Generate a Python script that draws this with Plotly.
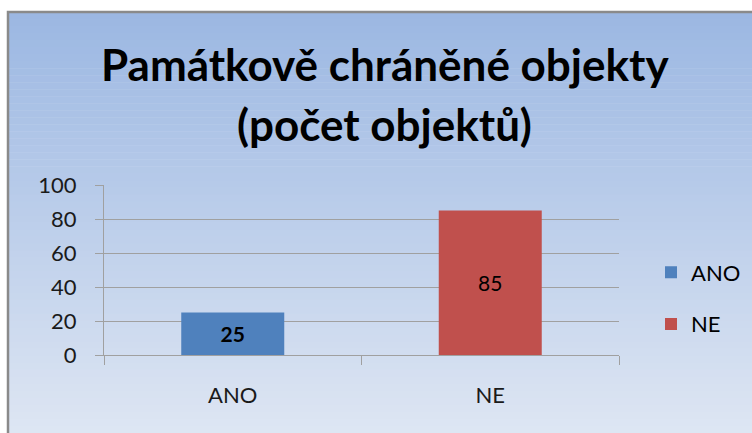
import plotly.graph_objects as go

categories = ["ANO", "NE"]
values = [25, 85]
colors = ["#4F81BD", "#C0504D"]
label_weights = ["bold", "normal"]
title_lines = ["Památkově chráněné objekty", "(počet objektů)"]
y_ticks = [0, 20, 40, 60, 80, 100]

W, H = 752, 433
L, R, T, B = 104, 619, 185, 355

fig = go.Figure()
for i, (c, v) in enumerate(zip(categories, values)):
    fig.add_trace(go.Bar(
        x=[c], y=[v], name=c, marker=dict(color=colors[i], line=dict(width=0)),
        text=[str(v)], textposition="inside", insidetextanchor="middle",
        textfont=dict(family="Lato", size=21, color="black", weight=label_weights[i]),
        legendgroup=c,
    ))

def px2x(px):
    return (px - L) / (R - L)

def px2y(py):
    return (B - py) / (B - T)

def lerp(a, b, t):
    return int(round(a + (b - a) * t))

top_c = (0x9B, 0xB7, 0xE2)
bot_c = (0xDE, 0xE6, 0xF3)
shapes = []
y_start, y_end = 12, H
n = 60
for k in range(n):
    y0 = y_start + (y_end - y_start) * k / n
    y1 = y_start + (y_end - y_start) * (k + 1) / n
    t = (k + 0.5) / n
    col = "rgb(%d,%d,%d)" % tuple(lerp(top_c[j], bot_c[j], t) for j in range(3))
    shapes.append(dict(type="rect", xref="paper", yref="paper", layer="below",
                       x0=px2x(8), x1=px2x(W + 5), y0=px2y(y1 + 0.5), y1=px2y(y0),
                       fillcolor=col, line=dict(width=0)))
shapes.append(dict(type="rect", xref="paper", yref="paper", layer="below",
                   x0=px2x(8), x1=px2x(W + 10), y0=px2y(H + 10), y1=px2y(12),
                   fillcolor="rgba(0,0,0,0)", line=dict(color="#8A8A8A", width=2.5)))

title_y_px = [64, 124]
annotations = [
    dict(text=txt, xref="paper", yref="paper", x=px2x(384.5), y=px2y(yp),
         xanchor="center", yanchor="middle", showarrow=False,
         font=dict(family="Lato", size=44, color="black", weight="bold"))
    for txt, yp in zip(title_lines, title_y_px)
]

fig.update_layout(
    width=W, height=H, autosize=False,
    margin=dict(l=L, r=W - R, t=T, b=H - B, pad=0, autoexpand=False),
    paper_bgcolor="white", plot_bgcolor="white",
    barmode="overlay", bargap=0.6,
    shapes=shapes,
    annotations=annotations,
    showlegend=True,
    legend=dict(x=(651 - L) / (R - L), y=px2y(298.5), xanchor="left", yanchor="middle",
                bgcolor="rgba(0,0,0,0)", font=dict(family="Lato", size=22, color="black"),
                traceorder="grouped", tracegroupgap=20, itemwidth=30),
    font=dict(family="Lato", color="black"),
)
fig.update_yaxes(range=[0, 100], tickvals=y_ticks, showgrid=True, gridcolor="#A0A0A0", gridwidth=1,
                 ticks="outside", ticklen=8, tickcolor="#A0A0A0", showline=True, linecolor="#A0A0A0",
                 linewidth=1, tickfont=dict(family="Lato", size=22, color="#1a1a1a"),
                 ticklabelstandoff=14, zeroline=False, fixedrange=True)
fig.update_xaxes(type="category", categoryarray=categories, tickson="boundaries", ticks="outside", ticklen=9,
                 tickcolor="#A0A0A0", showline=True, linecolor="#A0A0A0", linewidth=1,
                 tickfont=dict(family="Lato", size=22, color="#1a1a1a"), ticklabelstandoff=21,
                 showgrid=False, fixedrange=True)

fig.write_html("out.html", post_script="document.body.style.margin='0';",
               config={"displayModeBar": False})
